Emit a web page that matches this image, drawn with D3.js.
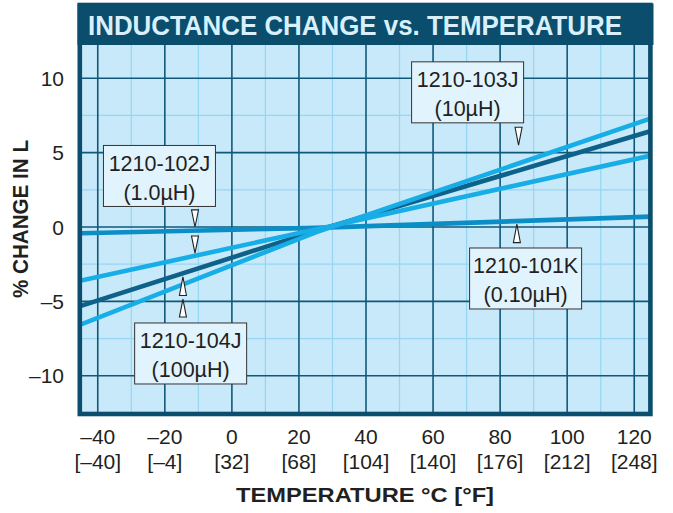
<!DOCTYPE html>
<html>
<head>
<meta charset="utf-8">
<script src="https://cdn.jsdelivr.net/npm/d3@7"></script>
<style>
  html, body { margin: 0; padding: 0; background: #fff; }
  svg { display: block; }
</style>
</head>
<body>
<div id="chart"></div>
<script>
// Inductance change vs temperature - 1210 series inductors

// data (values read at the plot edges and near the crossing point)
const temps = [-45, 25, 125];
const change101K = [-0.42, -0.06, 0.7];
const change102J = [-3.6, -0.17, 4.8];
const change103J = [-6.55, -0.36, 7.3];
const change104J = [-5.3, -0.26, 6.45];

const xTicks = [-40, -20, 0, 20, 40, 60, 80, 100, 120];
const xMinorTicks = [-30, -10, 10, 30, 50, 70, 90, 110];
const xTickLabelsC = ['\u201340', '\u201320', '0', '20', '40', '60', '80', '100', '120'];
const xTickLabelsF = ['[\u201340]', '[\u20134]', '[32]', '[68]', '[104]', '[140]', '[176]', '[212]', '[248]'];
const yTicks = [-10, -5, 0, 5, 10];
const yMinorTicks = [-7.5, -2.5, 2.5, 7.5];
const yTickLabels = ['\u201310', '\u20135', '0', '5', '10'];

// callouts: box centre in data units, arrows as [temp, tip, base]
const callouts = [
    {part: '1210-103J', value: '(10\u00b5H)', cx: 70.3, cy: 9.05,
     arrows: [[85.5, 5.5, 6.7]]},
    {part: '1210-102J', value: '(1.0\u00b5H)', cx: -21.6, cy: 3.43,
     arrows: [[-11, 0.0, 1.15], [-11, -1.75, -0.6]]},
    {part: '1210-104J', value: '(100\u00b5H)', cx: -12.3, cy: -8.5,
     arrows: [[-14.6, -3.35, -4.6], [-14.6, -4.85, -6.05]]},
    {part: '1210-101K', value: '(0.10\u00b5H)', cx: 87.6, cy: -3.46,
     arrows: [[85, 0.2, -1.05]]}
];

const seriesList = [
    {name: '1210-101K', values: change101K, color: '#0b8dc6'},
    {name: '1210-104J', values: change104J, color: '#0e6189'},
    {name: '1210-102J', values: change102J, color: '#17ade6'},
    {name: '1210-103J', values: change103J, color: '#17ade6'}
];

const width = 673, height = 513;
const dark = '#0b4d6d';
const textColor = '#231f20';
const font = '"Liberation Sans", Arial, sans-serif';
const narrow = '"Liberation Sans Narrow", "Liberation Sans", Arial, sans-serif';

const svg = d3.select('#chart').append('svg')
    .attr('width', width)
    .attr('height', height);

const x = d3.scaleLinear().domain([-45, 125]).range([81, 651]);
const y = d3.scaleLinear().domain([-12.5, 12.5]).range([413, 41]);

// plot background
svg.append('rect')
    .attr('x', x(-45)).attr('y', y(12.5))
    .attr('width', x(125) - x(-45)).attr('height', y(-12.5) - y(12.5))
    .attr('fill', '#c7e9f9');

// minor grid
const grid = svg.append('g');
grid.selectAll('line.xminor')
    .data(xMinorTicks).enter().append('line')
    .attr('x1', d => x(d)).attr('x2', d => x(d))
    .attr('y1', y(12.5)).attr('y2', y(-12.5))
    .attr('stroke', '#96d6f3').attr('stroke-width', 1.2);
grid.selectAll('line.yminor')
    .data(yMinorTicks).enter().append('line')
    .attr('x1', x(-45)).attr('x2', x(125))
    .attr('y1', d => y(d)).attr('y2', d => y(d))
    .attr('stroke', '#96d6f3').attr('stroke-width', 1.2);

// major grid
grid.selectAll('line.xmajor')
    .data(xTicks).enter().append('line')
    .attr('x1', d => x(d)).attr('x2', d => x(d))
    .attr('y1', y(12.5)).attr('y2', y(-12.5))
    .attr('stroke', '#10587a').attr('stroke-width', 1.6);
grid.selectAll('line.ymajor')
    .data(yTicks).enter().append('line')
    .attr('x1', x(-45)).attr('x2', x(125))
    .attr('y1', d => y(d)).attr('y2', d => y(d))
    .attr('stroke', '#10587a').attr('stroke-width', 1.6);

// clip for the lines
svg.append('clipPath').attr('id', 'plot-clip')
    .append('rect')
    .attr('x', x(-45)).attr('y', y(12.5))
    .attr('width', x(125) - x(-45)).attr('height', y(-12.5) - y(12.5));

const line = d3.line()
    .x((d, i) => x(temps[i]))
    .y(d => y(d));

svg.append('g')
    .attr('clip-path', 'url(#plot-clip)')
    .selectAll('path')
    .data(seriesList).enter().append('path')
    .attr('d', d => line(d.values))
    .attr('fill', 'none')
    .attr('stroke', d => d.color)
    .attr('stroke-width', 4.6);

// outer frame and title band
svg.append('rect')
    .attr('x', 77.5).attr('y', 3.5)
    .attr('width', 576).attr('height', 41.5)
    .attr('fill', dark);
svg.append('rect')
    .attr('x', 79.8).attr('y', 5)
    .attr('width', 570.6).attr('height', 409)
    .attr('fill', 'none')
    .attr('stroke', dark)
    .attr('stroke-width', 4.6);

svg.append('text')
    .attr('x', 88).attr('y', 35)
    .attr('textLength', 534)
    .attr('lengthAdjust', 'spacingAndGlyphs')
    .attr('font-family', narrow)
    .attr('font-weight', 'bold')
    .attr('font-size', '28px')
    .attr('fill', '#d8f0fb')
    .text('INDUCTANCE CHANGE vs. TEMPERATURE');

// y tick labels
svg.append('g').selectAll('text')
    .data(yTicks).enter().append('text')
    .attr('x', 64)
    .attr('y', d => y(d))
    .attr('dy', '0.36em')
    .attr('text-anchor', 'end')
    .attr('font-family', font)
    .attr('font-size', '21px')
    .attr('fill', textColor)
    .text((d, i) => yTickLabels[i]);

// x tick labels, celsius and fahrenheit rows
svg.append('g').selectAll('text')
    .data(xTicks).enter().append('text')
    .attr('x', d => x(d))
    .attr('y', 444)
    .attr('text-anchor', 'middle')
    .attr('font-family', font)
    .attr('font-size', '21px')
    .attr('fill', textColor)
    .text((d, i) => xTickLabelsC[i]);

svg.append('g').selectAll('text')
    .data(xTicks).enter().append('text')
    .attr('x', d => x(d))
    .attr('y', 469)
    .attr('text-anchor', 'middle')
    .attr('font-family', font)
    .attr('font-size', '21px')
    .attr('fill', textColor)
    .text((d, i) => xTickLabelsF[i]);

// axis titles
svg.append('text')
    .attr('x', 236).attr('y', 502)
    .attr('textLength', 258)
    .attr('lengthAdjust', 'spacingAndGlyphs')
    .attr('font-family', narrow)
    .attr('font-weight', 'bold')
    .attr('font-size', '21px')
    .attr('fill', textColor)
    .text('TEMPERATURE \u00b0C  [\u00b0F]');

svg.append('text')
    .attr('transform', 'translate(28, 298) rotate(-90)')
    .attr('textLength', 158)
    .attr('lengthAdjust', 'spacingAndGlyphs')
    .attr('font-family', narrow)
    .attr('font-weight', 'bold')
    .attr('font-size', '22px')
    .attr('fill', textColor)
    .text('% CHANGE IN L');

// callout boxes and arrows
const boxW = 112, boxH = 61;
const callout = svg.append('g').selectAll('g')
    .data(callouts).enter().append('g');

callout.append('rect')
    .attr('x', d => x(d.cx) - boxW / 2)
    .attr('y', d => y(d.cy) - boxH / 2)
    .attr('width', boxW).attr('height', boxH)
    .attr('fill', '#e1f3fc')
    .attr('stroke', '#333')
    .attr('stroke-width', 1);

callout.append('text')
    .attr('x', d => x(d.cx))
    .attr('y', d => y(d.cy) - 13)
    .attr('dy', '0.36em')
    .attr('text-anchor', 'middle')
    .attr('font-family', font)
    .attr('font-size', '21.5px')
    .attr('fill', textColor)
    .text(d => d.part);

callout.append('text')
    .attr('x', d => x(d.cx))
    .attr('y', d => y(d.cy) + 16)
    .attr('dy', '0.36em')
    .attr('text-anchor', 'middle')
    .attr('font-family', font)
    .attr('font-size', '21.5px')
    .attr('fill', textColor)
    .text(d => d.value);

callout.selectAll('path')
    .data(d => d.arrows).enter().append('path')
    .attr('d', a => {
        const ax = x(a[0]), tip = y(a[1]), base = y(a[2]);
        return `M${ax - 3.5},${base}L${ax + 3.5},${base}L${ax},${tip}Z`;
    })
    .attr('fill', '#fff')
    .attr('stroke', '#222')
    .attr('stroke-width', 1.1)
    .attr('stroke-linejoin', 'miter');
</script>
</body>
</html>
